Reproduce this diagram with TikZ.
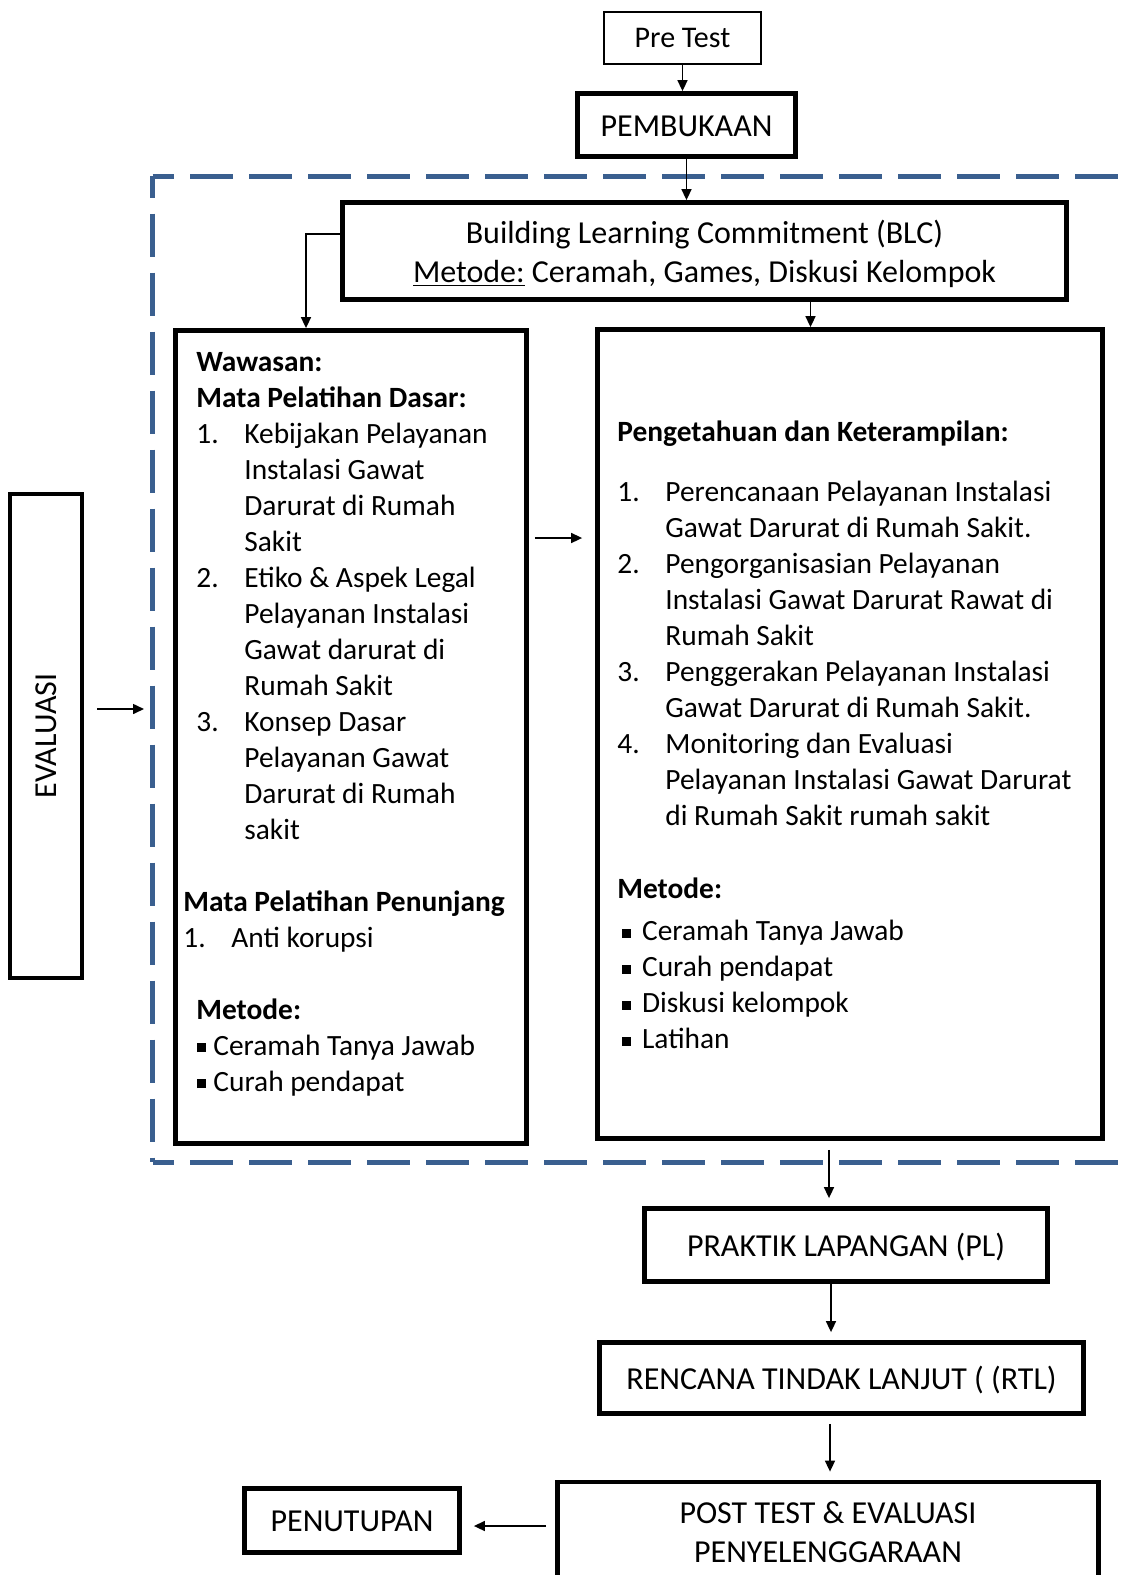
\documentclass[tikz,border=0pt]{standalone}
\usepackage{fontspec}
\setmainfont{Carlito}
\usetikzlibrary{arrows.meta,positioning}
\definecolor{garisbiru}{HTML}{3A5F8F}
\newcommand{\nomor}[1]{\makebox[24pt][l]{#1}}
\newcommand{\gantung}{\hspace*{24pt}}
\newcommand{\geser}{\hspace*{6.5pt}}
\newcommand{\titik}{\rule[1.5pt]{4.5pt}{4.5pt}}

\begin{document}
\begin{tikzpicture}[
    x=0.5pt, y=-0.5pt,
    font=\fontsize{16}{19.5}\selectfont,
    kotak/.style={rectangle, draw=black, line width=2.4pt, fill=white,
      inner sep=0pt, align=center},
    kotaklabel/.style={kotak, text height=11.3pt, text depth=0pt},
    kotaktipis/.style={rectangle, draw=black, line width=1pt, fill=white,
      inner sep=0pt, align=center},
    isi/.style={anchor=base west, inner sep=0pt, align=left,
      font=\fontsize{14.7}{18}\selectfont},
    panah/.style={-{Triangle[length=5.5pt, width=5pt]}, line width=0.8pt},
    putus/.style={draw=garisbiru, line width=2.5pt,
      dash pattern=on 21.5pt off 8pt, dash phase=10.75pt}
  ]
    \useasboundingbox (0,0) rectangle (1128,1575);
    \clip (0,0) rectangle (1128,1575);
    \fill[white] (0,0) rectangle (1128,1575);
    % kotak putus-putus
    \coordinate (sudutA) at (152.5,176);
    \coordinate (sudutB) at (152.5,1162);
    \draw[putus] (sudutA) -- (1170,176);
    \draw[putus] (sudutA) -- (sudutB);
    \draw[putus] (sudutB) -- (1170,1162);
    % alur
    \node[kotaktipis, minimum width=78.5pt, minimum height=26pt,
      font=\fontsize{15}{18}\selectfont] (pretest) at (682.5,38) {Pre Test};
    \node[kotaklabel, minimum width=109pt, minimum height=31.5pt] (pembukaan) at (686.5,125) {PEMBUKAAN};
    \node[kotak, text depth=0pt, minimum width=362pt, minimum height=48.5pt] (blc) at (704.5,251)
      {Building Learning Commitment (BLC)\\\underline{Metode:} Ceramah, Games, Diskusi Kelompok};
    \node[kotak, minimum width=175.5pt, minimum height=406.5pt] (wawasan) at (351,737) {};
    \node[kotak, minimum width=252.5pt, minimum height=404.5pt] (keterampilan) at (850,734) {};
    \node[kotak, minimum width=36pt, minimum height=242pt] (evaluasi) at (46,736) {\rotatebox{90}{EVALUASI}};
    \node[kotaklabel, minimum width=201.5pt, minimum height=36.5pt] (praktik) at (846,1245) {PRAKTIK LAPANGAN (PL)};
    \node[kotaklabel, minimum width=242pt, minimum height=35.5pt] (rtl) at (841.5,1378) {RENCANA TINDAK LANJUT ( (RTL)};
    \node[kotak, minimum width=270.5pt, minimum height=50pt] (posttest) at (828,1532)
      {POST TEST \& EVALUASI\\PENYELENGGARAAN};
    \node[kotaklabel, minimum width=107.5pt, minimum height=32pt] (penutupan) at (352,1520.5) {PENUTUPAN};
    % isi kotak kiri
    \node[isi] (isikiri) at (183,1091) {%
      \geser\textbf{Wawasan:}\\
      \geser\textbf{Mata Pelatihan Dasar:}\\
      \geser\nomor{1.}Kebijakan Pelayanan\\
      \geser\gantung Instalasi Gawat\\
      \geser\gantung Darurat di Rumah\\
      \geser\gantung Sakit\\
      \geser\nomor{2.}Etiko \& Aspek Legal\\
      \geser\gantung Pelayanan Instalasi\\
      \geser\gantung Gawat darurat di\\
      \geser\gantung Rumah Sakit\\
      \geser\nomor{3.}Konsep Dasar\\
      \geser\gantung Pelayanan Gawat\\
      \geser\gantung Darurat di Rumah\\
      \geser\gantung sakit\\[18pt]
      \textbf{Mata Pelatihan Penunjang}\\
      \nomor{1.}Anti korupsi\\[18pt]
      \geser\textbf{Metode:}\\
      \hspace*{6.8pt}\makebox[8.2pt][l]{\titik}Ceramah Tanya Jawab\\
      \hspace*{6.8pt}\makebox[8.2pt][l]{\titik}Curah pendapat};
    % isi kotak kanan
    \node[isi] (isikanan) at (617,1048.5) {%
      \textbf{Pengetahuan dan Keterampilan:}\\[12pt]
      \nomor{1.}Perencanaan Pelayanan Instalasi\\
      \gantung Gawat Darurat di Rumah Sakit.\\
      \nomor{2.}Pengorganisasian Pelayanan\\
      \gantung Instalasi Gawat Darurat Rawat di\\
      \gantung Rumah Sakit\\
      \nomor{3.}Penggerakan Pelayanan Instalasi\\
      \gantung Gawat Darurat di Rumah Sakit.\\
      \nomor{4.}Monitoring dan Evaluasi\\
      \gantung Pelayanan Instalasi Gawat Darurat\\
      \gantung di Rumah Sakit rumah sakit\\[18.5pt]
      \textbf{Metode:}\\[3pt]
      \hspace*{2.4pt}\makebox[9.95pt][l]{\titik}Ceramah Tanya Jawab\\
      \hspace*{2.4pt}\makebox[9.95pt][l]{\titik}Curah pendapat\\
      \hspace*{2.4pt}\makebox[9.95pt][l]{\titik}Diskusi kelompok\\
      \hspace*{2.4pt}\makebox[9.95pt][l]{\titik}Latihan};
    % panah
    \draw[panah] (pretest.south) -- (pretest.south |- pembukaan.north);
    \draw[panah] (pembukaan.south) -- (pembukaan.south |- blc.north);
    \draw[panah] ([yshift=8.5pt]blc.west) -| ([xshift=-22.5pt]wawasan.north);
    \draw[panah] ([xshift=53pt]blc.south) -- ([xshift=53pt]blc.south |- keterampilan.north);
    \draw[panah, shorten <=3pt, shorten >=6.5pt] ([yshift=99.5pt]wawasan.east)
      -- ([yshift=99.5pt]wawasan.east -| keterampilan.west);
    \draw[panah, shorten <=6.3pt, shorten >=4.25pt] ([yshift=13.5pt]evaluasi.east)
      -- ([yshift=13.5pt]evaluasi.east -| sudutA);
    \draw[panah, shorten <=4.5pt, shorten >=4pt] ([xshift=-10.5pt]keterampilan.south)
      -- ([xshift=-10.5pt]keterampilan.south |- praktik.north);
    \draw[panah, shorten >=4pt] ([xshift=-7.5pt]praktik.south) -- ([xshift=-7.5pt]praktik.south |- rtl.north);
    \draw[panah, shorten <=4pt, shorten >=4pt] ([xshift=-5.75pt]rtl.south) -- ([xshift=-5.75pt]rtl.south |- posttest.north);
    \draw[panah, shorten <=4.5pt, shorten >=6pt] ([yshift=3pt]posttest.west) -- ([yshift=3pt]posttest.west -| penutupan.east);
\end{tikzpicture}
\end{document}
